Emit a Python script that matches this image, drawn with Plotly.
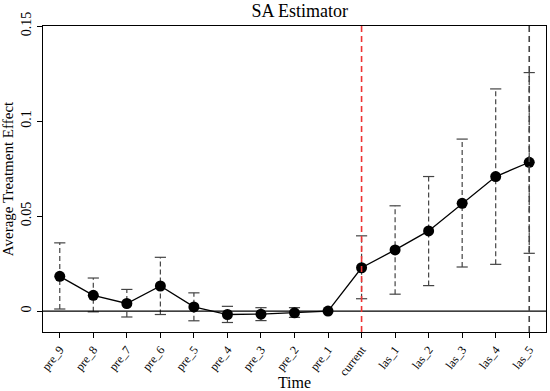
import plotly.graph_objects as go

categories = ["pre_9", "pre_8", "pre_7", "pre_6", "pre_5", "pre_4", "pre_3", "pre_2", "pre_1",
              "current", "las_1", "las_2", "las_3", "las_4", "las_5"]
estimates = [0.0183, 0.0083, 0.0040, 0.0132, 0.0022, -0.0018, -0.0016, -0.0009, 0.0,
             0.0228, 0.0322, 0.0422, 0.0567, 0.0708, 0.0783]
upper = [0.0359, 0.0174, 0.0114, 0.0283, 0.0096, 0.0025, 0.0018, 0.0018, 0.0,
         0.0396, 0.0554, 0.0708, 0.0905, 0.1169, 0.1255]
lower = [0.0011, -0.0004, -0.0031, -0.0018, -0.0051, -0.0060, -0.0050, -0.0033, 0.0,
         0.0065, 0.0089, 0.0134, 0.0232, 0.0246, 0.0304]
y_ticks = [0, 0.05, 0.1, 0.15]
y_tick_labels = ["0", "0.05", "0.1", "0.15"]
treat_index = 9
last_index = 14

xi = list(range(len(categories)))
FONT = "Liberation Serif"
GRAY = "#444444"

fig = go.Figure()

# dashed error bar stems
sx, sy = [], []
cx, cy = [], []
for i, (lo, hi) in enumerate(zip(lower, upper)):
    if hi == lo:
        continue
    sx += [i, i, None]
    sy += [lo, hi, None]
    cx += [i, i]
    cy += [lo, hi]
fig.add_trace(go.Scatter(x=sx, y=sy, mode="lines",
                         line=dict(color=GRAY, width=1.2, dash="5px,3px"),
                         hoverinfo="skip", showlegend=False))
fig.add_trace(go.Scatter(x=cx, y=cy, mode="markers",
                         marker=dict(symbol="line-ew-open", size=8, color=GRAY,
                                     line=dict(color=GRAY, width=1.2)),
                         hoverinfo="skip", showlegend=False))

fig.add_trace(go.Scatter(x=xi, y=estimates, mode="lines+markers",
                         line=dict(color="black", width=1.3),
                         marker=dict(color="black", size=11),
                         showlegend=False))

fig.add_shape(type="line", xref="paper", yref="y", x0=0, x1=1, y0=0, y1=0,
              line=dict(color="black", width=1.3))
fig.add_shape(type="line", xref="x", yref="paper", x0=treat_index, x1=treat_index, y0=0, y1=1,
              line=dict(color="#EE3333", width=1.6, dash="6px,4px"))
fig.add_shape(type="line", xref="x", yref="paper", x0=last_index, x1=last_index, y0=0, y1=1,
              line=dict(color=GRAY, width=1.6, dash="6px,4px"))

fig.update_layout(
    template="none",
    width=550, height=391,
    margin=dict(l=43, r=4, t=26, b=59, autoexpand=False),
    plot_bgcolor="white", paper_bgcolor="white",
    font=dict(family=FONT, color="black", size=12),
    title=dict(text="SA Estimator", x=0.545, xanchor="center", y=0.99, yanchor="top",
               font=dict(size=18, family=FONT, color="black")),
)
fig.update_xaxes(
    range=[-0.5, 14.5], tickmode="array", tickvals=xi, ticktext=categories,
    tickangle=-52, ticks="outside", ticklen=5, tickcolor="black",
    showline=True, linecolor="black", linewidth=1, mirror=True,
    showgrid=False, zeroline=False, automargin=False,
    tickfont=dict(size=12, family=FONT, color="black"),
    title=dict(text="Time", font=dict(size=16, family=FONT, color="black"), standoff=2),
)
fig.update_yaxes(
    range=[-0.011, 0.15], tickmode="array", tickvals=y_ticks, ticktext=y_tick_labels,
    tickangle=-90, ticks="outside", ticklen=5, tickcolor="black",
    showline=True, linecolor="black", linewidth=1, mirror=True,
    showgrid=False, zeroline=False, automargin=False,
    tickfont=dict(size=14, family=FONT, color="black"),
    title=dict(text="Average Treatment Effect", font=dict(size=15, family=FONT, color="black"), standoff=5),
)

fig.write_html("out.html", config={"displayModeBar": False},
               post_script="document.body.style.margin='0';")
